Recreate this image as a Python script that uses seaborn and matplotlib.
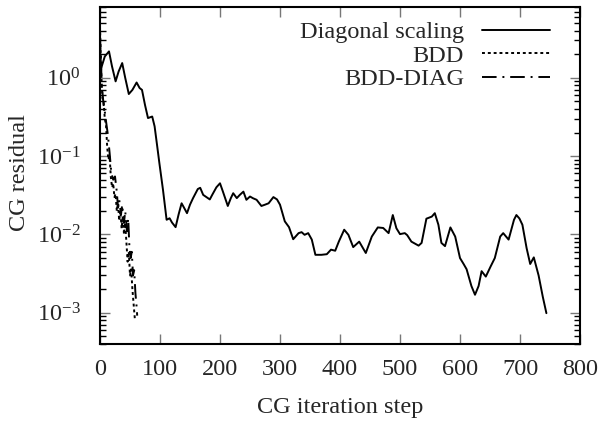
import matplotlib
matplotlib.use("Agg")
import matplotlib.pyplot as plt
import seaborn as sns
import pandas as pd
from matplotlib.ticker import LogLocator, NullFormatter, MultipleLocator

# ---- data ----
diag_iter = [0, 2, 8, 15, 20, 26, 31, 37, 42, 48, 54, 61, 66, 70, 75, 80, 87, 91, 95, 99,
             105, 111, 116, 120, 126, 131, 136, 140, 145, 150, 155, 163, 167, 172, 183, 187,
             194, 200, 205, 213, 218, 222, 228, 233, 239, 244, 250, 255, 261, 269, 275, 281,
             289, 295, 300, 308, 315, 322, 331, 336, 341, 347, 353, 359, 369, 378, 385, 392,
             398, 407, 414, 422, 432, 443, 453, 463, 472, 481, 488, 494, 500, 508, 512, 519,
             531, 536, 544, 553, 558, 564, 569, 575, 584, 592, 600, 606, 611, 619, 625, 631,
             636, 643, 651, 658, 667, 672, 681, 690, 694, 699, 704, 711, 717, 723, 731, 738, 744]
diag_res = [2.4, 1.33, 1.87, 2.17, 1.4, 0.9, 1.2, 1.54, 1.0, 0.62, 0.70, 0.87, 0.74, 0.70, 0.45,
            0.306, 0.32, 0.24, 0.14, 0.081, 0.037, 0.0154, 0.0161, 0.0142, 0.0124, 0.018, 0.025,
            0.022, 0.0187, 0.024, 0.029, 0.038, 0.0394, 0.032, 0.028, 0.032, 0.040, 0.045, 0.035,
            0.0231, 0.029, 0.0336, 0.0291, 0.032, 0.0352, 0.0277, 0.0305, 0.029, 0.0277, 0.0231,
            0.024, 0.025, 0.030, 0.028, 0.024, 0.0147, 0.0124, 0.0087, 0.0104, 0.0107, 0.0099,
            0.0104, 0.0086, 0.0055, 0.0055, 0.0056, 0.0064, 0.0062, 0.0081, 0.0115, 0.0099,
            0.0069, 0.0081, 0.0058, 0.0094, 0.0123, 0.0121, 0.0104, 0.0177, 0.012, 0.0101,
            0.0104, 0.0098, 0.0081, 0.0072, 0.0078, 0.0159, 0.0169, 0.0187, 0.0133, 0.0078,
            0.0071, 0.0123, 0.0094, 0.0050, 0.0042, 0.0036, 0.0022, 0.0017, 0.0022, 0.0034,
            0.0029, 0.0039, 0.0050, 0.0094, 0.0104, 0.0086, 0.0154, 0.0177, 0.016, 0.0133,
            0.0067, 0.0042, 0.0051, 0.0030, 0.0016, 0.00099]

bdd_iter = [0, 2, 4, 6, 8, 10, 12, 14, 16, 18, 20, 22, 24, 26, 28, 30, 32, 34, 36, 38, 40,
            42, 44, 46, 48, 50, 52, 54, 56, 58]
bdd_res = [4.5, 1.2, 0.55, 0.5, 0.3, 0.25, 0.13, 0.09, 0.1, 0.055, 0.04, 0.045, 0.03, 0.033,
           0.02, 0.025, 0.015, 0.02, 0.012, 0.017, 0.01, 0.014, 0.008, 0.0045, 0.006, 0.003,
           0.0036, 0.002, 0.0013, 0.00085]

bdddiag_iter = [0, 3, 6, 8, 10, 13, 16, 19, 22, 25, 28, 30, 32, 35, 37, 40, 42, 45, 47, 49,
                51, 53, 55, 57, 59, 61, 62]
bdddiag_res = [3.5, 0.8, 0.45, 0.37, 0.28, 0.19, 0.11, 0.06, 0.05, 0.055, 0.035, 0.022, 0.028,
               0.018, 0.024, 0.014, 0.02, 0.011, 0.016, 0.007, 0.005, 0.006, 0.003, 0.0035,
               0.0018, 0.0012, 0.00092]

labels = ["Diagonal scaling", "BDD", "BDD-DIAG"]

# ---- style ----
sns.set_theme(style="ticks")
FS = 17.5
plt.rcParams.update({
    "font.family": ["Liberation Serif", "DejaVu Serif"],
    "mathtext.fontset": "stix",
    "font.size": FS,
    "axes.unicode_minus": False,
})

fig = plt.figure(figsize=(6.03, 4.25), dpi=100)
W, H = 603, 425
ax = fig.add_axes([100 / W, 1 - 344 / H, 480 / W, 337 / H])

series = [
    (diag_iter, diag_res, labels[0], "-"),
    (bdd_iter, bdd_res, labels[1], (0, (1.5, 1.5))),
    (bdddiag_iter, bdddiag_res, labels[2], (0, (7.5, 3, 1, 3))),
]
for xs, ys, lab, ls in series:
    df = pd.DataFrame({"step": xs, "res": ys})
    sns.lineplot(data=df, x="step", y="res", ax=ax, color="black", lw=1.4,
                 linestyle=ls, label=lab, estimator=None, sort=False)

ax.set_yscale("log")
ax.set_xlim(0, 800)
ax.set_ylim(4e-4, 8)
ax.xaxis.set_major_locator(MultipleLocator(100))
ax.yaxis.set_major_locator(LogLocator(base=10, numticks=10))
ax.yaxis.set_minor_locator(LogLocator(base=10, subs=range(2, 10), numticks=20))
ax.yaxis.set_minor_formatter(NullFormatter())

for sp in ax.spines.values():
    sp.set_linewidth(1.5)
    sp.set_color("black")

ax.tick_params(axis="both", which="major", direction="in", top=True, right=True,
               length=7, width=1.0, color="#777777", labelsize=FS)
ax.tick_params(axis="x", which="major", pad=11)
ax.tick_params(axis="y", which="major", pad=14)
ax.tick_params(axis="y", which="minor", direction="in", left=True, right=True,
               length=4, width=1.0, color="black")
ax.tick_params(axis="x", which="minor", bottom=False, top=False)

ax.set_xlabel("CG iteration step", fontsize=FS)
ax.set_ylabel("CG residual", fontsize=FS)
ax.yaxis.set_label_coords((20 - 100) / 480, (344 - 173) / 337)
ax.yaxis.label.set_va("center")
ax.xaxis.set_label_coords(0.5, (344 - 407) / 337)
ax.xaxis.label.set_va("center")

leg = ax.legend(loc="upper right", bbox_to_anchor=((550 - 100) / 480, (344 - 21) / 337),
                markerfirst=False, frameon=False, borderpad=0, borderaxespad=0,
                handlelength=2.8, handletextpad=0.74, labelspacing=0.07, fontsize=FS)

fig.savefig("out.png", dpi=100)
